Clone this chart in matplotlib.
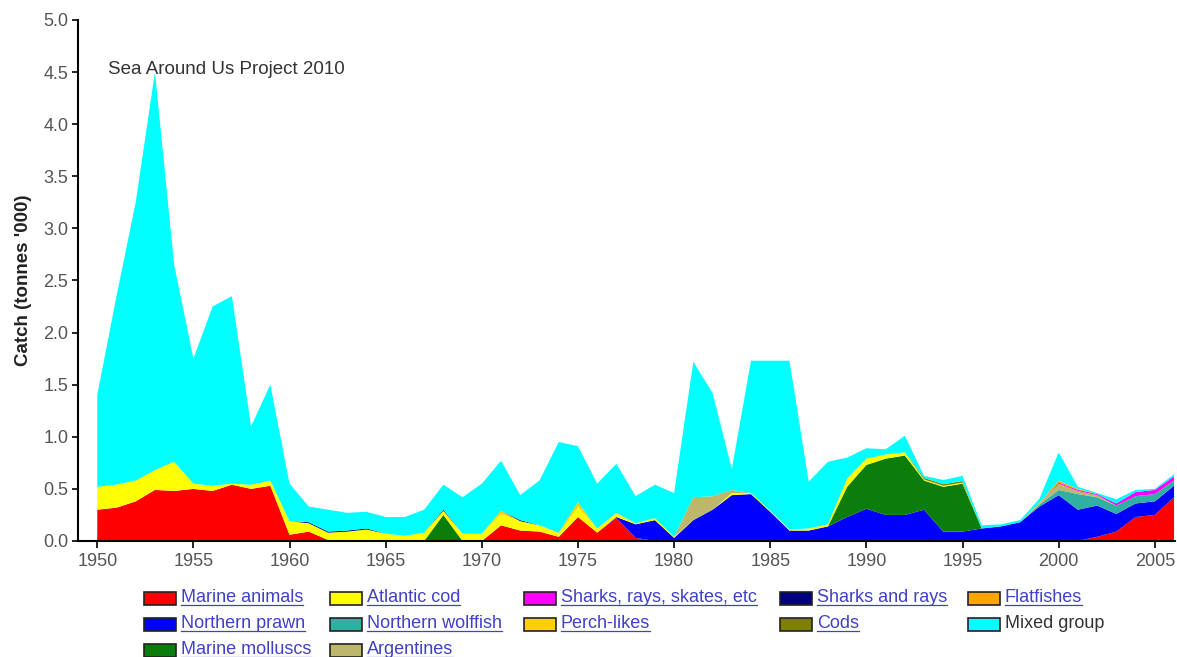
import numpy as np
import matplotlib
matplotlib.use("Agg")
import matplotlib.pyplot as plt
from matplotlib.patches import Rectangle
from matplotlib.lines import Line2D

plt.rcParams['font.family'] = ['Liberation Sans', 'DejaVu Sans']

# years on the x axis
years = list(range(1950, 2007))

# catch per group, tonnes '000
marine_animals = [0.30, 0.32, 0.38, 0.49, 0.48, 0.50, 0.48, 0.54, 0.50, 0.53,
                  0.06, 0.09, 0.01, 0, 0, 0, 0, 0, 0, 0,
                  0, 0.15, 0.10, 0.09, 0.04, 0.23, 0.08, 0.22, 0.03, 0,
                  0, 0, 0, 0, 0, 0, 0, 0, 0, 0,
                  0, 0, 0, 0, 0, 0, 0, 0, 0, 0,
                  0, 0, 0.04, 0.09, 0.23, 0.25, 0.42]
northern_prawn = [0, 0, 0, 0, 0, 0, 0, 0, 0, 0,
                  0, 0, 0, 0, 0, 0, 0, 0, 0, 0,
                  0, 0, 0, 0, 0, 0, 0, 0.01, 0.13, 0.20,
                  0.03, 0.20, 0.30, 0.44, 0.45, 0.28, 0.10, 0.10, 0.14, 0.23,
                  0.31, 0.25, 0.25, 0.30, 0.09, 0.09, 0.12, 0.14, 0.18, 0.33,
                  0.44, 0.30, 0.30, 0.17, 0.13, 0.13, 0.11]
marine_molluscs = {1968: 0.25, 1989: 0.29, 1990: 0.42, 1991: 0.54, 1992: 0.57,
                   1993: 0.28, 1994: 0.43, 1995: 0.46}
atlantic_cod = [0.22, 0.22, 0.20, 0.19, 0.28, 0.05, 0.05, 0.01, 0.04, 0.05,
                0.13, 0.08, 0.07, 0.09, 0.11, 0.07, 0.05, 0.08, 0.04, 0.07,
                0.07, 0.11, 0.09, 0.06, 0.03, 0.10, 0.04, 0.03, 0.01, 0.02,
                0.01, 0, 0, 0.02, 0.01, 0.01, 0.01, 0.02, 0.02, 0.08,
                0.06, 0.04, 0.03, 0.01, 0.01, 0.01, 0, 0, 0, 0,
                0, 0, 0, 0, 0, 0, 0]
northern_wolffish = {1999: 0.02, 2000: 0.05, 2001: 0.15, 2002: 0.08, 2003: 0.08,
                     2004: 0.07, 2005: 0.07, 2006: 0.05}
argentines = {1981: 0.22, 1982: 0.13, 1983: 0.03, 1999: 0.01, 2000: 0.06,
              2001: 0.03, 2002: 0.02}
sharks_skates = {2000: 0.01, 2001: 0.01, 2002: 0.01, 2003: 0.02, 2004: 0.04,
                 2005: 0.04, 2006: 0.04}
perch_likes = {1971: 0.03, 1974: 0.01, 1975: 0.04, 1977: 0.01}
sharks_rays = {1961: 0.01, 1962: 0.01, 1963: 0.01, 1964: 0.01, 1968: 0.01, 1972: 0.01}
cods = {1993: 0.015, 1994: 0.015, 1995: 0.015}
flatfishes = {1999: 0.005, 2000: 0.02, 2001: 0.01}
mixed_group = [0.88, 1.81, 2.67, 3.82, 1.89, 1.20, 1.72, 1.80, 0.56, 0.92,
               0.36, 0.15, 0.21, 0.17, 0.16, 0.16, 0.18, 0.22, 0.24, 0.35,
               0.48, 0.48, 0.24, 0.43, 0.87, 0.54, 0.43, 0.47, 0.26, 0.32,
               0.42, 1.30, 0.99, 0.20, 1.27, 1.44, 1.62, 0.45, 0.60, 0.20,
               0.10, 0.05, 0.16, 0.02, 0.04, 0.05, 0.03, 0.02, 0.02, 0.04,
               0.27, 0.02, 0.01, 0.04, 0.02, 0.01, 0.02]

labels = ['Marine animals', 'Northern prawn', 'Marine molluscs', 'Atlantic cod',
          'Northern wolffish', 'Argentines', 'Sharks, rays, skates, etc', 'Perch-likes',
          'Sharks and rays', 'Cods', 'Flatfishes', 'Mixed group']
colors = ['#ff0000', '#0000ff', '#0b7d0b', '#ffff00', '#2fb0a3', '#bdb76b',
          '#ff00ff', '#ffd000', '#000080', '#808000', '#ffa500', '#00ffff']


def full(series):
    if isinstance(series, dict):
        return [series.get(y, 0) for y in years]
    return series


stack = [full(s) for s in [marine_animals, northern_prawn, marine_molluscs, atlantic_cod,
                           northern_wolffish, argentines, sharks_skates, perch_likes,
                           sharks_rays, cods, flatfishes, mixed_group]]

fig = plt.figure(figsize=(11.77, 6.57), dpi=100)
ax = fig.add_axes([0.0663, 0.1766, 0.932, 0.793])
ax.stackplot(years, *stack, colors=colors, linewidth=0)

ax.set_xlim(1949, 2006.05)
ax.set_ylim(0, 5.0)
ax.set_yticks(np.arange(0, 5.01, 0.5))
ax.set_yticklabels(['%.1f' % v for v in np.arange(0, 5.01, 0.5)])
ax.set_xticks(range(1950, 2006, 5))
ax.tick_params(labelsize=13, labelcolor='#555555', length=5, width=1.2)
ax.tick_params(axis='y', length=4, pad=3)
for s in ['top', 'right']:
    ax.spines[s].set_visible(False)
ax.spines['left'].set_linewidth(1.5)
ax.spines['bottom'].set_linewidth(1.5)
ax.set_ylabel("Catch (tonnes '000)", fontsize=13.5, fontweight='bold', color='#222222',
              labelpad=8)
ax.text(1950.57, 4.52, 'Sea Around Us Project 2010', fontsize=13.5, color='#333333',
        va='center', ha='left')

# legend drawn by hand to follow the page layout
W, H = 1177, 657
col_x = [144, 330, 524, 780, 968]
row_y = [598, 624, 650]
link = '#4040c8'
texts = []
for i, (lab, col) in enumerate(zip(labels, colors)):
    c, r = (i // 3, i % 3) if i < 6 else (2 + (i - 6) // 2, (i - 6) % 2)
    x0, yc = col_x[c], row_y[r]
    fig.patches.append(Rectangle((x0 / W, 1 - (yc + 6.5) / H), 32 / W, 13 / H,
                                 transform=fig.transFigure, facecolor=col,
                                 edgecolor='#222222', linewidth=1.2))
    t = fig.text((x0 + 37) / W, 1 - yc / H, lab, fontsize=13, va='center', ha='left',
                 color='#333333' if lab == 'Mixed group' else link)
    if lab != 'Mixed group':
        texts.append(t)

fig.canvas.draw()
r = fig.canvas.get_renderer()
for t in texts:
    bb = t.get_window_extent(renderer=r)
    yline = (bb.y0 + 1.5) / H
    fig.lines.append(Line2D([bb.x0 / W, bb.x1 / W], [yline, yline],
                            transform=fig.transFigure, color=link, linewidth=0.9))

fig.savefig('out.png', dpi=100)
